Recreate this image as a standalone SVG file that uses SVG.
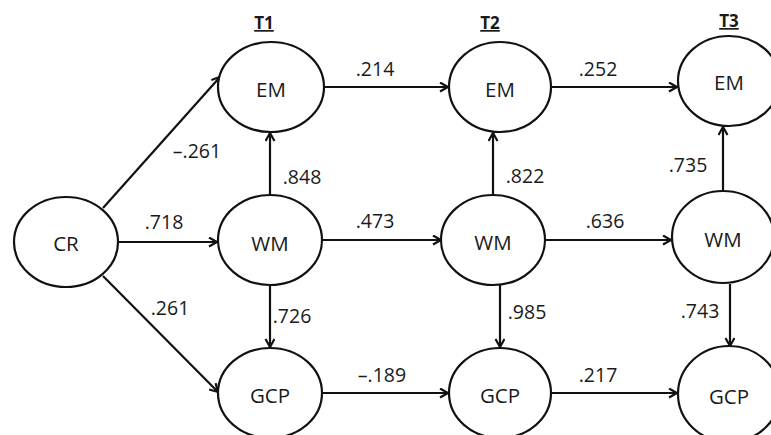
<svg xmlns="http://www.w3.org/2000/svg" width="771" height="435" viewBox="0 0 771 435">
  <style>
    .node ellipse { fill: #ffffff; stroke: #111111; stroke-width: 2.2; }
    .node text { font-family: "Open Sans", "Liberation Sans", sans-serif; font-size: 20.5px; fill: #1a1a1a; text-anchor: middle; }
    .edges line { stroke: #111111; stroke-width: 2.2; marker-end: url(#arrow); }
    .lbl { font-family: "Open Sans", "Liberation Sans", sans-serif; font-size: 19.5px; fill: #1a1a1a; text-anchor: middle; }
    .time { font-family: "Open Sans", "Liberation Sans", sans-serif; font-size: 17px; font-weight: bold; fill: #1a1a1a; text-anchor: middle; text-decoration: underline; }
  </style>
  <defs>
    <marker id="arrow" markerUnits="userSpaceOnUse" markerWidth="12" markerHeight="12" refX="9" refY="5" orient="auto">
      <path d="M1,0.5 L9,5 L1,9.5" fill="none" stroke="#111111" stroke-width="2.2" stroke-linejoin="miter"/>
    </marker>
  </defs>

  <rect x="0" y="0" width="771" height="435" fill="#ffffff"/>

  <!-- time point headings -->
  <g id="headings">
    <text class="time" x="264" y="29">T1</text>
    <text class="time" x="490" y="29">T2</text>
    <text class="time" x="729" y="27">T3</text>
  </g>

  <!-- connectors -->
  <g class="edges" id="edges">
    <line x1="103" y1="208" x2="220" y2="77"/>
    <line x1="118" y1="242" x2="217" y2="242"/>
    <line x1="103" y1="276" x2="218" y2="392"/>
    <line x1="270" y1="195" x2="270" y2="133"/>
    <line x1="270" y1="285" x2="270" y2="347"/>
    <line x1="324" y1="87" x2="448" y2="87"/>
    <line x1="322" y1="240" x2="441" y2="240"/>
    <line x1="322" y1="393" x2="448" y2="393"/>
    <line x1="493" y1="195" x2="493" y2="133"/>
    <line x1="500" y1="285" x2="500" y2="347"/>
    <line x1="551" y1="87" x2="677" y2="87"/>
    <line x1="545" y1="240" x2="671" y2="240"/>
    <line x1="551" y1="393" x2="677" y2="393"/>
    <line x1="723" y1="191" x2="723" y2="127"/>
    <line x1="730" y1="284" x2="730" y2="346"/>
  </g>

  <!-- path coefficients -->
  <g id="labels">
    <text class="lbl" x="197" y="158">–.261</text>
    <text class="lbl" x="164" y="229">.718</text>
    <text class="lbl" x="170" y="315">.261</text>
    <text class="lbl" x="302" y="184">.848</text>
    <text class="lbl" x="292" y="323">.726</text>
    <text class="lbl" x="375" y="76">.214</text>
    <text class="lbl" x="375" y="228">.473</text>
    <text class="lbl" x="382" y="382">–.189</text>
    <text class="lbl" x="525" y="183">.822</text>
    <text class="lbl" x="527" y="319">.985</text>
    <text class="lbl" x="598" y="76">.252</text>
    <text class="lbl" x="605" y="228">.636</text>
    <text class="lbl" x="598" y="382">.217</text>
    <text class="lbl" x="688" y="172">.735</text>
    <text class="lbl" x="700" y="318">.743</text>
  </g>

  <!-- nodes -->
  <g class="node" id="cr">
    <ellipse cx="66" cy="242" rx="52" ry="45"/>
    <text x="66" y="251">CR</text>
  </g>
  <g class="node" id="em1">
    <ellipse cx="271" cy="87" rx="53" ry="45"/>
    <text x="271" y="97">EM</text>
  </g>
  <g class="node" id="wm1">
    <ellipse cx="270" cy="240" rx="52" ry="45"/>
    <text x="270" y="251">WM</text>
  </g>
  <g class="node" id="gcp1">
    <ellipse cx="270" cy="393" rx="52" ry="45"/>
    <text x="270" y="403">GCP</text>
  </g>
  <g class="node" id="em2">
    <ellipse cx="500" cy="87" rx="51" ry="45"/>
    <text x="500" y="97">EM</text>
  </g>
  <g class="node" id="wm2">
    <ellipse cx="493" cy="240" rx="52" ry="45"/>
    <text x="493" y="250">WM</text>
  </g>
  <g class="node" id="gcp2">
    <ellipse cx="500" cy="393" rx="51" ry="45"/>
    <text x="500" y="403">GCP</text>
  </g>
  <g class="node" id="em3">
    <ellipse cx="729" cy="81" rx="51" ry="45"/>
    <text x="729" y="90">EM</text>
  </g>
  <g class="node" id="wm3">
    <ellipse cx="723" cy="237" rx="51" ry="46"/>
    <text x="723" y="247">WM</text>
  </g>
  <g class="node" id="gcp3">
    <ellipse cx="729" cy="394" rx="51" ry="48"/>
    <text x="729" y="404">GCP</text>
  </g>
</svg>
